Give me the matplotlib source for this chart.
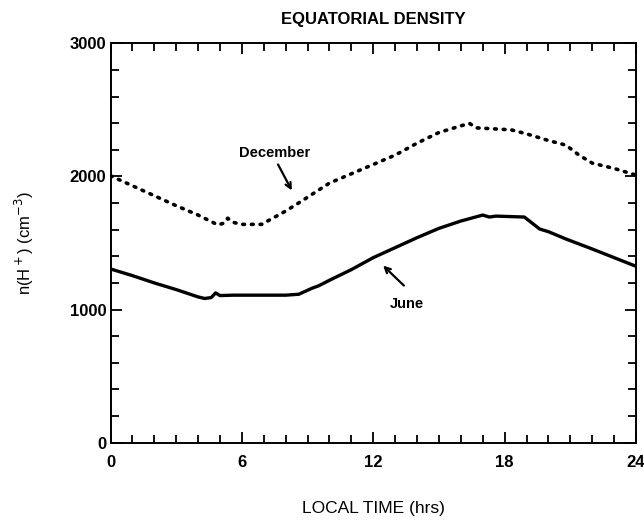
import numpy as np
import matplotlib.pyplot as plt
from matplotlib.ticker import MultipleLocator

plt.rcParams['font.family'] = ['Liberation Sans', 'DejaVu Sans']

# local time (hrs) and H+ density
june_hr = [0, 1, 2, 3, 4.0, 4.3, 4.6, 4.8, 5.0, 5.6, 6, 7, 8, 8.6, 9.2, 9.5, 10, 11, 12,
           13, 14, 15, 16, 17, 17.3, 17.6, 18.9, 19.6, 20, 20.8, 22, 23, 24]
june_n = [1305, 1255, 1200, 1150, 1095, 1083, 1090, 1125, 1105, 1108, 1108, 1108, 1108,
          1115, 1160, 1178, 1220, 1300, 1390, 1465, 1540, 1610, 1665, 1710, 1695, 1702,
          1695, 1605, 1585, 1530, 1455, 1390, 1325]

dec_hr = [0, 1, 2, 3, 4, 4.9, 5.2, 5.35, 5.6, 6, 6.9, 8, 8.7, 10, 11, 12, 13, 14, 15, 16,
          16.4, 16.7, 18.3, 19, 20, 20.8, 21.4, 22, 23, 24]
dec_n = [2005, 1930, 1855, 1780, 1710, 1636, 1650, 1686, 1655, 1640, 1640, 1740, 1812,
         1950, 2020, 2090, 2160, 2250, 2330, 2380, 2398, 2365, 2350, 2320, 2270, 2235,
         2160, 2100, 2060, 2010]

fig = plt.figure(figsize=(6.44, 5.2), dpi=100)
ax = fig.add_axes([0.1716, 0.1487, 0.816, 0.768])

ax.plot(june_hr, june_n, color='black', lw=2.4)
ax.plot(dec_hr, dec_n, color='black', lw=2.6, linestyle=(0, (0.5, 1.9)),
        dash_capstyle='round')

ax.set_xlim(0, 24)
ax.set_ylim(0, 3000)
ax.xaxis.set_major_locator(MultipleLocator(6))
ax.xaxis.set_minor_locator(MultipleLocator(1))
ax.yaxis.set_major_locator(MultipleLocator(1000))
ax.yaxis.set_minor_locator(MultipleLocator(200))
ax.tick_params(which='both', direction='in', top=True, right=True, width=1.3)
ax.tick_params(which='major', length=8, labelsize=12)
ax.tick_params(which='minor', length=6)
ax.tick_params(axis='x', which='major', pad=9)
ax.tick_params(axis='y', which='major', pad=3)
for lbl in ax.get_xticklabels() + ax.get_yticklabels():
    lbl.set_fontweight('bold')
for s in ax.spines.values():
    s.set_linewidth(1.4)

ax.text(7.5, 2176, 'December', ha='center', va='center', fontsize=10.5, fontweight='bold')
ax.annotate('', xy=(8.28, 1895), xytext=(7.65, 2090),
            arrowprops=dict(arrowstyle='->', color='black', lw=1.6, shrinkA=0, shrinkB=0))
ax.text(13.55, 1045, 'June', ha='center', va='center', fontsize=10.5, fontweight='bold')
ax.annotate('', xy=(12.45, 1330), xytext=(13.4, 1180),
            arrowprops=dict(arrowstyle='->', color='black', lw=1.6, shrinkA=0, shrinkB=0))

ax.set_title('EQUATORIAL DENSITY', fontsize=12, fontweight='bold', pad=14)
ax.set_xlabel('LOCAL TIME (hrs)', fontsize=12.5, labelpad=22)
ax.set_ylabel('n(H$^+$) (cm$^{-3}$)', fontsize=12, labelpad=24)

fig.savefig('out.png', dpi=100)
